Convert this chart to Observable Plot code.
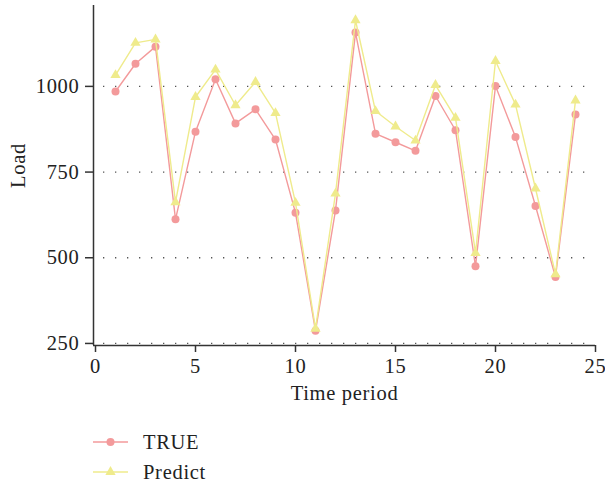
<!DOCTYPE html>
<html>
<head>
<meta charset="utf-8">
<script src="https://cdn.jsdelivr.net/npm/d3@7"></script>
<script src="https://cdn.jsdelivr.net/npm/@observablehq/plot@0.6"></script>
<style>
  html, body { margin: 0; padding: 0; background: #fff; }
  #chart { position: relative; width: 605px; height: 483px; font-family: "Liberation Serif", "DejaVu Serif", serif; color: #222; }
  #chart svg.plot { display: block; }
  #chart svg.plot text { letter-spacing: 0.7px; }
  .legend-row { position: absolute; left: 93px; height: 20px; display: flex; align-items: center; font-size: 20.5px; letter-spacing: 0.7px; }
  .legend-row svg { display: block; margin-right: 14px; }
</style>
</head>
<body>
<div id="chart"></div>
<script>
// Hourly load: observed values and model prediction
const periods = [1, 2, 3, 4, 5, 6, 7, 8, 9, 10, 11, 12, 13, 14, 15, 16, 17, 18, 19, 20, 21, 22, 23, 24];
const trueLoad = [985, 1066, 1116, 612, 868, 1021, 892, 933, 845, 631, 287, 638, 1157, 862, 837, 812, 972, 872, 475, 1001, 852, 651, 444, 918];
const predictLoad = [1033, 1127, 1137, 662, 969, 1049, 945, 1013, 922, 660, 293, 687, 1193, 928, 883, 842, 1004, 908, 514, 1074, 947, 702, 452, 959];

const xTicks = [0, 5, 10, 15, 20, 25];
const yTicks = [250, 500, 750, 1000];

const seriesNames = ["TRUE", "Predict"];
const seriesColors = ["#F39A9B", "#EFEB8C"];
const seriesSymbols = ["circle", "triangle"];

const trueRows = periods.map((t, i) => ({t, load: trueLoad[i]}));
const predictRows = periods.map((t, i) => ({t, load: predictLoad[i]}));

const xDomain = [-0.1, 25];
const yDomain = [244, 1236];
const axisColor = "#333";
const textColor = "#222";
const fontSize = 20.5;
const font = "\"Liberation Serif\", \"DejaVu Serif\", serif";

const plot = Plot.plot({
  width: 605,
  height: 415,
  marginLeft: 93,
  marginRight: 10,
  marginTop: 5,
  marginBottom: 70,
  style: {fontFamily: font, fontSize: fontSize + "px", color: textColor, background: "#fff"},
  x: {domain: xDomain, ticks: xTicks},
  y: {domain: yDomain, ticks: yTicks},
  marks: [
    // dotted horizontal grid
    Plot.ruleY(yTicks, {stroke: "#555", strokeWidth: 1.3, strokeDasharray: "1.3,10.7", strokeDashoffset: -10}),
    // axis lines
    Plot.ruleX([xDomain[0]], {stroke: axisColor, strokeWidth: 1.5}),
    Plot.ruleY([yDomain[0]], {stroke: axisColor, strokeWidth: 1.5}),
    Plot.axisX({ticks: xTicks, tickSize: 7, tickPadding: 6, tickFormat: d => String(d), stroke: axisColor, strokeWidth: 1.5, fill: textColor, fontSize, label: null}),
    Plot.axisY({ticks: yTicks, tickSize: 8, tickPadding: 6, tickFormat: d => String(d), stroke: axisColor, strokeWidth: 1.5, fill: textColor, fontSize, label: null}),
    // axis titles
    Plot.text(["Time period"], {frameAnchor: "bottom", dy: 54, fill: textColor, fontSize}),
    Plot.text(["Load"], {frameAnchor: "left", textAnchor: "middle", rotate: -90, dx: -75, dy: -10, fill: textColor, fontSize}),
    // observed series
    Plot.line(trueRows, {x: "t", y: "load", stroke: seriesColors[0], strokeWidth: 1.4}),
    Plot.dot(trueRows, {x: "t", y: "load", r: 4, symbol: seriesSymbols[0], fill: seriesColors[0], stroke: "none"}),
    // predicted series
    Plot.line(predictRows, {x: "t", y: "load", stroke: seriesColors[1], strokeWidth: 1.4}),
    Plot.dot(predictRows, {x: "t", y: "load", r: 3.8, symbol: seriesSymbols[1], fill: seriesColors[1], stroke: "none"})
  ]
});
plot.classList.add("plot");
const chart = document.getElementById("chart");
chart.appendChild(plot);

// legend below the plot
const legendTops = [432, 462];
seriesNames.forEach((name, i) => {
  const row = document.createElement("div");
  row.className = "legend-row";
  row.style.top = legendTops[i] + "px";
  const sw = d3.create("svg").attr("width", 36).attr("height", 20);
  sw.append("line").attr("x1", 0).attr("x2", 35).attr("y1", 10).attr("y2", 10)
    .attr("stroke", seriesColors[i]).attr("stroke-width", 1.4);
  const sym = i === 0 ? d3.symbolCircle : d3.symbolTriangle;
  const size = Math.PI * (i === 0 ? 4 : 3.8) ** 2;
  sw.append("path").attr("d", d3.symbol(sym, size)()).attr("transform", "translate(17.5,10)")
    .attr("fill", seriesColors[i]);
  row.appendChild(sw.node());
  const label = document.createElement("span");
  label.textContent = name;
  row.appendChild(label);
  chart.appendChild(row);
});
</script>
</body>
</html>
